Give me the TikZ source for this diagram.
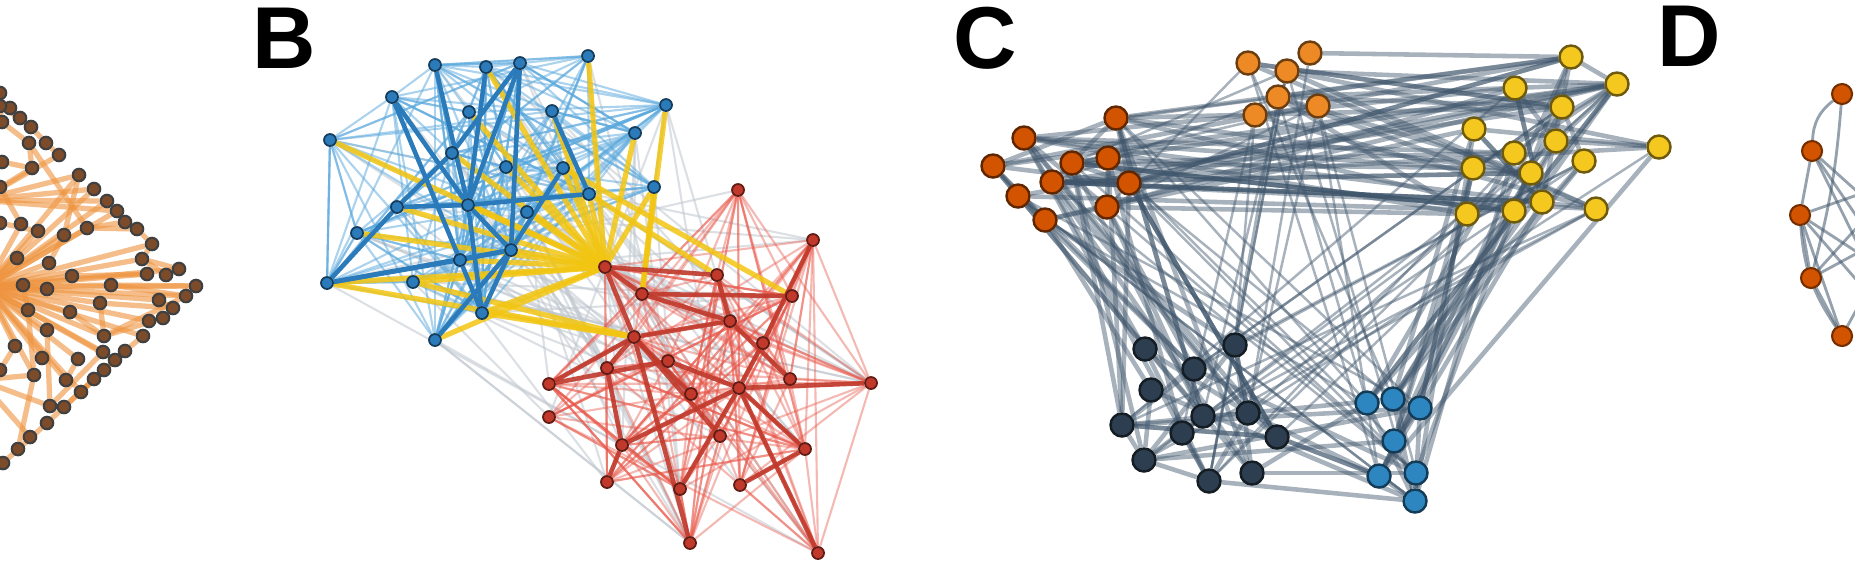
\documentclass[tikz,border=0pt]{standalone}
\usepackage{fontspec}
\setmainfont{Liberation Sans}
\pgfdeclarelayer{bg}
\pgfsetlayers{bg,main}
\definecolor{abrown}{HTML}{7B4B2A}
\definecolor{aorange}{HTML}{EE9440}
\definecolor{bblue}{HTML}{2B7BBA}
\definecolor{bsky}{HTML}{5AA8DC}
\definecolor{byellow}{HTML}{F2C511}
\definecolor{bred}{HTML}{C0392B}
\definecolor{bpink}{HTML}{E8574A}
\definecolor{bgrey}{HTML}{BFC7CE}
\definecolor{cslate}{HTML}{3E546A}
\definecolor{corange}{HTML}{D35400}
\definecolor{camber}{HTML}{EE8A25}
\definecolor{cyellow}{HTML}{F4C81E}
\definecolor{cnavy}{HTML}{2C3E50}
\definecolor{cblue}{HTML}{2E86C1}
% random links between two groups of named nodes
\newcommand{\randlinks}[6]{%
  \foreach \k in {1,...,#1}{%
    \pgfmathtruncatemacro\ri{random(1,#4)}%
    \pgfmathtruncatemacro\rj{random(1,#6)}%
    \edef\ta{#3\ri}\edef\tb{#5\rj}%
    \ifx\ta\tb\else\draw[#2] (#3\ri) -- (#5\rj);\fi}}
\begin{document}
\begin{tikzpicture}[x=0.1mm,y=-0.1mm,
  a_node/.style={circle,fill=abrown,draw=black!75,line width=0.6pt,minimum size=1.25mm,inner sep=0pt},
  blue_node/.style={circle,fill=bblue,draw=bblue!50!black,line width=0.5pt,minimum size=1.2mm,inner sep=0pt},
  red_node/.style={circle,fill=bred,draw=bred!50!black,line width=0.5pt,minimum size=1.2mm,inner sep=0pt},
  c_node/.style={circle,draw=#1!45!black,fill=#1,line width=0.7pt,minimum size=2.3mm,inner sep=0pt},
  d_node/.style={circle,draw=corange!55!black,fill=corange,line width=0.6pt,minimum size=2mm,inner sep=0pt},
  a_edge/.style={draw=aorange,draw opacity=0.62,line width=1.5pt},
  blue_thin/.style={draw=bsky,draw opacity=0.5,line width=0.6pt},
  blue_thick/.style={draw=bblue,line width=1.3pt},
  red_thin/.style={draw=bpink,draw opacity=0.42,line width=0.6pt},
  red_thick/.style={draw=bred,draw opacity=0.9,line width=1.3pt},
  yellow_edge/.style={draw=byellow,draw opacity=0.85,line width=1.5pt},
  grey_edge/.style={draw=bgrey,draw opacity=0.55,line width=0.6pt},
  c_edge/.style={draw=cslate,draw opacity=0.45,line width=1.3pt},
  c_edge_thin/.style={draw=cslate,draw opacity=0.45,line width=0.7pt},
  d_edge/.style={draw=cslate,draw opacity=0.55,line width=0.8pt},
  label_text/.style={anchor=north west,inner sep=0pt,font=\fontsize{25}{25}\selectfont\bfseries}]

\useasboundingbox (0,0) rectangle (1855,561);
\clip (0,0) rectangle (1855,561);

% panel labels
\node[label_text] (labB) at (252,7) {B};
\node[label_text] (labC) at (953,6) {C};
\node[label_text] (labD) at (1657,5) {D};

% ---- panel A
\foreach \n/\x/\y in {a1/0/93,a2/10/108,a3/0/106,a4/20/118,a5/2/122,a6/31/127,a7/29/143,a8/46/143,
  a9/59/155,a10/2/162,a11/32/168,a12/0/187,a13/79/175,a14/94/189,a15/107/201,a16/117/211,
  a17/125/222,a18/137/229,a19/21/224,a20/38/231,a21/64/235,a22/87/228,a23/0/223,a24/152/244,
  a25/17/258,a26/49/263,a27/142/259,a28/72/276,a29/147/274,a30/166/275,a31/179/269,a32/196/286,
  a33/23/285,a34/47/289,a35/111/285,a36/186/296,a37/159/300,a38/173/308,a39/100/303,a40/28/310,
  a41/70/312,a42/149/321,a43/163/318,a44/143/336,a45/104/336,a46/47/330,a47/15/346,a48/125/351,
  a49/103/352,a50/115/360,a51/42/358,a52/78/359,a53/0/370,a54/104/370,a55/94/379,a56/34/375,
  a57/66/380,a58/81/392,a59/50/406,a60/64/407,a61/47/423,a62/30/437,a63/18/449,a64/3/463}
  \node[a_node] (\n) at (\x,\y) {};
\coordinate (ahub) at (-14,287);
\coordinate (aup) at (-20,200);
\coordinate (alow) at (-20,380);
\coordinate (atop) at (-20,90);

% ---- panel B
\foreach \n/\x/\y in {b1/435/65,b2/486/67,b3/520/63,b4/588/56,b5/392/97,b6/469/112,b7/552/111,
  b8/666/105,b9/330/140,b10/635/133,b11/452/153,b12/506/167,b13/563/168,b14/654/187,b15/397/207,
  b16/468/205,b17/589/194,b18/527/212,b19/357/233,b20/511/250,b21/460/260,b22/327/283,b23/413/282,
  b24/482/313,b25/435/340}
  \node[blue_node] (\n) at (\x,\y) {};
\foreach \n/\x/\y in {r1/738/190,r2/813/240,r3/605/267,r4/717/275,r5/642/294,r6/792/296,r7/730/321,
  r8/634/337,r9/763/343,r10/668/361,r11/607/368,r12/549/384,r13/790/379,r14/871/383,r15/739/388,
  r16/691/394,r17/549/417,r18/720/436,r19/622/445,r20/805/449,r21/607/482,r22/680/489,r23/740/485,
  r24/690/543,r25/818/553}
  \node[red_node] (\n) at (\x,\y) {};

% ---- panel C
\foreach \n/\x/\y in {co1/1116/118,co2/1024/138,co3/993/166,co4/1072/163,co5/1108/158,
  co6/1052/182,co7/1129/183,co8/1018/196,co9/1107/207,co10/1045/220}
  \node[c_node=corange] (\n) at (\x,\y) {};
\foreach \n/\x/\y in {ct1/1248/63,ct2/1310/53,ct3/1287/71,ct4/1278/97,ct5/1255/115,ct6/1318/106}
  \node[c_node=camber] (\n) at (\x,\y) {};
\foreach \n/\x/\y in {cy1/1571/57,cy2/1617/84,cy3/1515/88,cy4/1562/107,cy5/1474/129,cy6/1556/141,
  cy7/1514/153,cy8/1659/147,cy9/1473/168,cy10/1531/173,cy11/1584/161,cy12/1467/214,cy13/1514/211,
  cy14/1542/202,cy15/1596/209}
  \node[c_node=cyellow] (\n) at (\x,\y) {};
\foreach \n/\x/\y in {cn1/1145/349,cn2/1235/345,cn3/1194/369,cn4/1151/390,cn5/1203/416,cn6/1248/413,
  cn7/1122/425,cn8/1182/433,cn9/1277/437,cn10/1144/460,cn11/1209/481,cn12/1252/473}
  \node[c_node=cnavy] (\n) at (\x,\y) {};
\foreach \n/\x/\y in {cb1/1367/403,cb2/1393/399,cb3/1420/408,cb4/1394/441,cb5/1379/476,
  cb6/1416/473,cb7/1415/501}
  \node[c_node=cblue] (\n) at (\x,\y) {};

% ---- panel D
\foreach \n/\x/\y in {d1/1842/94,d2/1812/151,d3/1800/215,d4/1811/278,d5/1842/336}
  \node[d_node] (\n) at (\x,\y) {};
\foreach \n/\y in {e1/120,e2/180,e3/230,e4/280,e5/330}
  \coordinate (\n) at (1900,\y);

\begin{pgfonlayer}{bg}
% panel A links
\foreach \u in {a33,a34,a35,a26,a27,a28,a21,a22,a14,a15,a16,a39,a41,a46,a47,a51,a52,a44,
  a42,a37,a31,a56,a57,a50,a40,a25,a19,a20,a13,a58,a45,a49,a29,a24,a32,a36}
  \draw[a_edge] (ahub) -- (\u);
\foreach \u/\v in {a35/a32,a35/a36,a27/a30,a27/a31,a27/a24,a22/a18,a22/a17,a7/a22,a8/a9,
  a6/a8,a4/a6,a2/a4,a3/a5,a11/a10,a7/a11,a5/a7,a39/a45,a39/a38,a45/a36,a45/a43,a44/a48,
  a48/a54,a54/a55,a64/a61,a61/a55,a58/a54,a56/a63,a49/a59,a48/a60,a40/a56,a52/a57,a41/a45,
  a21/a13,a28/a29,a46/a59,a12/a19,a23/a20,a33/a40,a47/a53,a26/a21,a18/a24,a30/a31,a43/a42,a38/a37}
  \draw[a_edge] (\u) -- (\v);
\foreach \u in {a13,a14,a15,a16,a9,a11}
  \draw[a_edge] (aup) -- (\u);
\foreach \u in {a2,a4,a6}
  \draw[a_edge] (atop) -- (\u);
\foreach \u in {a56,a62,a59,a53}
  \draw[a_edge] (alow) -- (\u);

% panel B links
\pgfmathsetseed{11}
\randlinks{80}{grey_edge}{b}{25}{r}{25}
\randlinks{200}{blue_thin}{b}{25}{b}{25}
\randlinks{200}{red_thin}{r}{25}{r}{25}
\foreach \u in {b9,b11,b12,b13,b14,b15,b17,b18,b19,b20,b21,b22,b24,b25,b6,b2,b4,b10,b7,b23,b16}
  \draw[yellow_edge] (r3) -- (\u);
\foreach \u/\v in {r8/b22,r8/b24,r8/b23,r5/b14,r5/b8,r6/b13,r4/b17}
  \draw[yellow_edge] (\u) -- (\v);
\foreach \u/\v in {b22/b15,b15/b11,b11/b3,b22/b20,b22/b21,b5/b21,b5/b16,b1/b16,b2/b16,b3/b16,
  b3/b20,b7/b17,b15/b16,b16/b17,b20/b13,b21/b24,b16/b24,b24/b20,b25/b20,b21/b20,b16/b20}
  \draw[blue_thick] (\u) -- (\v);
\foreach \u/\v in {r3/r4,r3/r5,r3/r8,r5/r6,r5/r7,r4/r7,r8/r7,r8/r18,r8/r24,r8/r12,r8/r11,
  r11/r19,r19/r15,r15/r14,r15/r25,r15/r20,r15/r9,r9/r2,r20/r23,r19/r21,r12/r10,r10/r15,
  r15/r22,r7/r13,r16/r8}
  \draw[red_thick] (\u) -- (\v);

% panel C links
\pgfmathsetseed{5}
\randlinks{34}{c_edge}{co}{10}{cy}{15}
\randlinks{26}{c_edge}{co}{10}{cn}{12}
\randlinks{12}{c_edge_thin}{co}{10}{cb}{7}
\randlinks{12}{c_edge}{ct}{6}{cy}{15}
\randlinks{8}{c_edge_thin}{ct}{6}{cn}{12}
\randlinks{6}{c_edge_thin}{ct}{6}{cb}{7}
\randlinks{22}{c_edge}{cy}{15}{cb}{7}
\randlinks{16}{c_edge_thin}{cy}{15}{cn}{12}
\randlinks{18}{c_edge}{cn}{12}{cn}{12}
\randlinks{12}{c_edge}{cn}{12}{cb}{7}
\randlinks{10}{c_edge}{co}{10}{co}{10}
\randlinks{16}{c_edge}{cy}{15}{cy}{15}
\randlinks{6}{c_edge_thin}{co}{10}{ct}{6}
\randlinks{6}{c_edge}{cb}{7}{cb}{7}
\draw[c_edge] (ct2) -- (cy1);
\draw[c_edge] (ct3) -- (cy2);

% panel D links
\draw[d_edge] (d1) to[bend right=25] (d2);
\draw[d_edge] (d1) to[bend left=5] (d4);
\foreach \u/\v in {d2/d3,d3/d4,d3/d5,d4/d5,d2/e3,d2/e4,d3/e2,d3/e4,d3/e5,d4/e2,d4/e3,d5/e3,d2/e5}
  \draw[d_edge] (\u) -- (\v);
\draw[d_edge] (d3) to[bend right=15] (d5);
\end{pgfonlayer}
\end{tikzpicture}
\end{document}
